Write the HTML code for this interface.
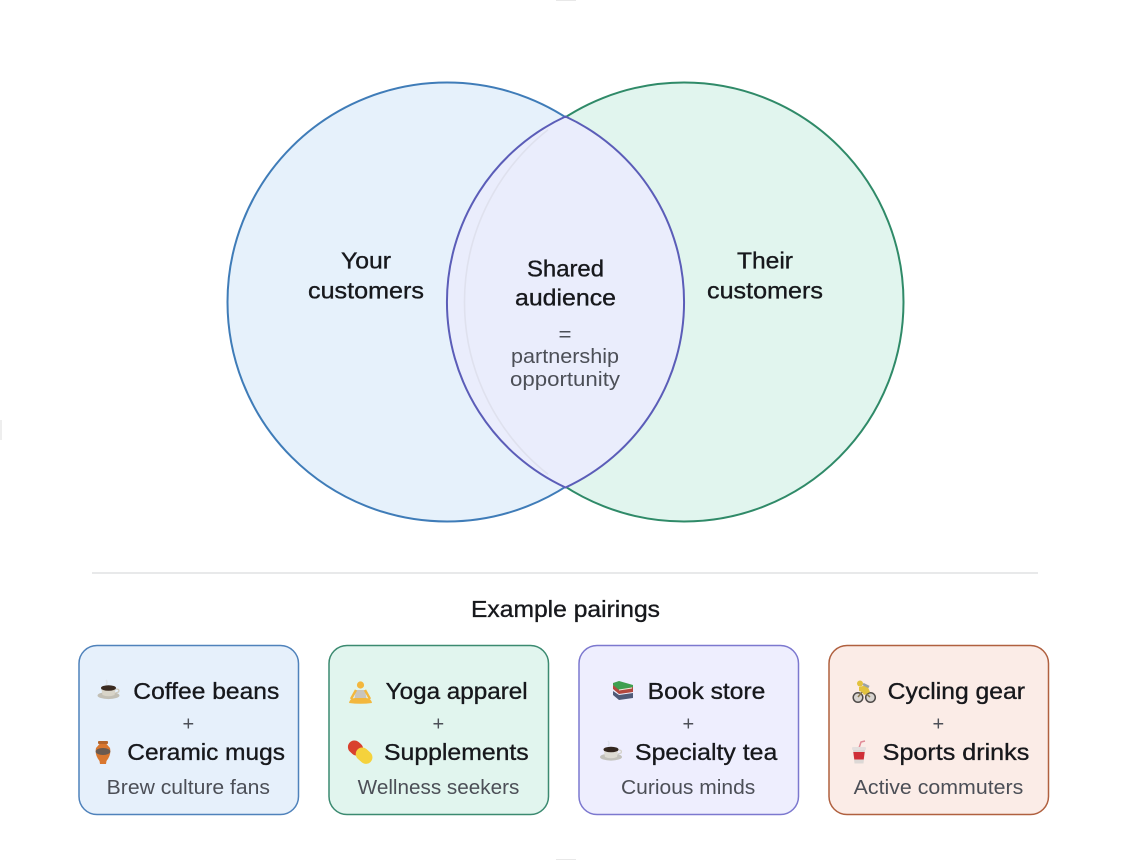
<!DOCTYPE html>
<html>
<head>
<meta charset="utf-8">
<style>
html,body{margin:0;padding:0;background:#fff;width:1130px;height:860px;overflow:hidden}
svg{display:block}
text{font-family:"Liberation Sans",sans-serif;text-anchor:start}
.h{fill:#17181c;stroke:#17181c;stroke-width:.35px}
.s{fill:#4c4f57}
</style>
</head>
<body>
<svg width="1130" height="860" viewBox="0 0 1130 860" xmlns="http://www.w3.org/2000/svg">
<rect x="556" y="0" width="20" height="1" fill="#e8e8e8"/>
<rect x="556" y="859" width="20" height="1" fill="#e8e8e8"/>
<rect x="0" y="420" width="2" height="20" fill="#eeeeee"/>

<circle cx="447" cy="302" r="220" fill="#e6f1fb"/>
<circle cx="684" cy="302" r="220" fill="#e1f5ee"/>
<circle cx="447" cy="302" r="219.500" fill="none" stroke="#3f7cb8" stroke-width="2"/>
<circle cx="684" cy="302" r="219.500" fill="none" stroke="#2f8a68" stroke-width="2"/>
<path d="M565.500 116.500A204.400 204.400 0 0 1 565.500 487.500A204.400 204.400 0 0 1 565.500 116.500Z" fill="#eaedfc"/>
<path d="M548 129.700A219.500 219.500 0 0 0 548 474.300" fill="none" stroke="#dfe1ee" stroke-width="1.600"/>
<path d="M565.500 116.500A204.400 204.400 0 0 1 565.500 487.500A204.400 204.400 0 0 1 565.500 116.500Z" fill="none" stroke="#5b5db8" stroke-width="2"/>

<text class="h" x="341" y="268.500" font-size="23" textLength="50" lengthAdjust="spacingAndGlyphs">Your</text>
<text class="h" x="308" y="298.500" font-size="23" textLength="116" lengthAdjust="spacingAndGlyphs">customers</text>
<text class="h" x="737" y="268.500" font-size="23" textLength="56" lengthAdjust="spacingAndGlyphs">Their</text>
<text class="h" x="707" y="298.500" font-size="23" textLength="116" lengthAdjust="spacingAndGlyphs">customers</text>
<text class="h" x="527" y="276.500" font-size="23" textLength="77" lengthAdjust="spacingAndGlyphs">Shared</text>
<text class="h" x="515" y="305.500" font-size="23" textLength="101" lengthAdjust="spacingAndGlyphs">audience</text>
<text class="s" x="558.500" y="341" font-size="20" textLength="13" lengthAdjust="spacingAndGlyphs">=</text>
<text class="s" x="511" y="363" font-size="20" textLength="108" lengthAdjust="spacingAndGlyphs">partnership</text>
<text class="s" x="510" y="386" font-size="20" textLength="110" lengthAdjust="spacingAndGlyphs">opportunity</text>

<rect x="92" y="572" width="946" height="2" fill="#e8e9ea"/>
<text class="h" x="471" y="617" font-size="23" textLength="189" lengthAdjust="spacingAndGlyphs">Example pairings</text>

<rect x="79" y="645.500" width="219.500" height="169" rx="18" fill="#e6f0fb" stroke="#4f82bb" stroke-width="1.500"/>
<rect x="329" y="645.500" width="219.500" height="169" rx="18" fill="#e1f5ee" stroke="#3b8a70" stroke-width="1.500"/>
<rect x="579" y="645.500" width="219.500" height="169" rx="18" fill="#eeeefe" stroke="#7c78cf" stroke-width="1.500"/>
<rect x="829" y="645.500" width="219.500" height="169" rx="18" fill="#fbece7" stroke="#b0603f" stroke-width="1.500"/>

<text class="h" x="133.300" y="699" font-size="23.500" textLength="146" lengthAdjust="spacingAndGlyphs">Coffee beans</text>
<text class="s" x="182.500" y="730.500" font-size="20">+</text>
<text class="h" x="127.300" y="760" font-size="23.500" textLength="157.700" lengthAdjust="spacingAndGlyphs">Ceramic mugs</text>
<text class="s" x="106.700" y="794" font-size="20" textLength="163.300" lengthAdjust="spacingAndGlyphs">Brew culture fans</text>

<text class="h" x="385.700" y="699" font-size="23.500" textLength="142" lengthAdjust="spacingAndGlyphs">Yoga apparel</text>
<text class="s" x="432.500" y="730.500" font-size="20">+</text>
<text class="h" x="384" y="760" font-size="23.500" textLength="144.700" lengthAdjust="spacingAndGlyphs">Supplements</text>
<text class="s" x="357.700" y="794" font-size="20" textLength="161.600" lengthAdjust="spacingAndGlyphs">Wellness seekers</text>

<text class="h" x="647.700" y="699" font-size="23.500" textLength="117.600" lengthAdjust="spacingAndGlyphs">Book store</text>
<text class="s" x="682.500" y="730.500" font-size="20">+</text>
<text class="h" x="635" y="760" font-size="23.500" textLength="142.300" lengthAdjust="spacingAndGlyphs">Specialty tea</text>
<text class="s" x="621" y="794" font-size="20" textLength="134.300" lengthAdjust="spacingAndGlyphs">Curious minds</text>

<text class="h" x="887.700" y="699" font-size="23.500" textLength="137.300" lengthAdjust="spacingAndGlyphs">Cycling gear</text>
<text class="s" x="932.500" y="730.500" font-size="20">+</text>
<text class="h" x="882.700" y="760" font-size="23.500" textLength="146.600" lengthAdjust="spacingAndGlyphs">Sports drinks</text>
<text class="s" x="853.700" y="794" font-size="20" textLength="169.600" lengthAdjust="spacingAndGlyphs">Active commuters</text>

<!-- coffee -->
<g>
<path d="M106 680q2 2 0 5" fill="none" stroke="#dfe3e8" stroke-width="1.500"/>
<ellipse cx="108.500" cy="695.500" rx="11" ry="3.600" fill="#c2bfb5"/>
<path d="M101 687h15l-1.500 8q-6 2.500-12 0Z" fill="#d8d4c8"/>
<ellipse cx="108.500" cy="688" rx="7.500" ry="2.800" fill="#3a2a20"/>
<path d="M116 689q4 0 2.500 3l-3 1" fill="none" stroke="#cfcabd" stroke-width="1.300"/>
</g>
<!-- vase -->
<g>
<rect x="98" y="741" width="10" height="3" rx="1" fill="#b5652c"/>
<path d="M99.500 744h7l3.500 4q1.500 7-3.500 13l-.5 3h-6l-.5-3q-5-6-3.500-13Z" fill="#d9772f"/>
<ellipse cx="103" cy="751.500" rx="7.300" ry="3.500" fill="#6a5a50"/>
</g>
<!-- yoga -->
<g>
<circle cx="360.500" cy="685" r="3.600" fill="#f3b73d"/>
<path d="M356 690h9l1.500 8h-12Z" fill="#c9c5bd"/>
<path d="M356 690l-5 9M365 690l5 9" stroke="#f3b73d" stroke-width="2.400" fill="none"/>
<path d="M349 703q1-5 6-5h11q5 0 6 5q-11.500 1.500-23 0Z" fill="#f3b73d"/>
</g>
<!-- pill -->
<g transform="rotate(42 360 752)">
<rect x="346" y="745.500" width="16" height="13" rx="6.500" fill="#d9412e"/>
<rect x="356.500" y="745.500" width="18" height="13" rx="6.500" fill="#f5d23c"/>
</g>
<!-- books -->
<g>
<path d="M613 695l6 5 14-2v-5l-14 2-6-4Z" fill="#4f5a78"/>
<path d="M613 689l6 5 14-2v-5l-14 2-6-4Z" fill="#b2483f"/>
<path d="M613 685l6 5 14-3v-2l-14-4-6 2Z" fill="#3f9f50"/>
<path d="M619 690l13-2" stroke="#efe9da" stroke-width="1"/>
</g>
<!-- tea cup -->
<g>
<path d="M608 741q2 2 0 5" fill="none" stroke="#dfe3ee" stroke-width="1.500"/>
<ellipse cx="611" cy="757" rx="11" ry="3.600" fill="#c2c1bb"/>
<path d="M603.500 749h15l-1.500 8q-6 2.500-12 0Z" fill="#dcdad2"/>
<ellipse cx="611" cy="749.500" rx="7.500" ry="2.800" fill="#332720"/>
<path d="M618.500 750q4 0 2.500 3l-3 1" fill="none" stroke="#d4d2ca" stroke-width="1.300"/>
</g>
<!-- cyclist -->
<g>
<circle cx="858" cy="697.500" r="4.800" fill="#d8d4d0" stroke="#4e4a48" stroke-width="1.500"/>
<circle cx="870.500" cy="697.500" r="4.800" fill="#d8d4d0" stroke="#4e4a48" stroke-width="1.500"/>
<path d="M858 697l5-6 7 6" fill="none" stroke="#8a7a50" stroke-width="1.500"/>
<circle cx="860" cy="683.500" r="3" fill="#e2c23f"/>
<path d="M859 687l8-2 3 7-6 3-2-3-3-1Z" fill="#e2c23f"/>
<path d="M863 684l6 3" stroke="#9aa2a8" stroke-width="2.500"/>
</g>
<!-- drink -->
<g>
<path d="M859 748l2-6 4-1" fill="none" stroke="#e08a96" stroke-width="1.500"/>
<rect x="852" y="747" width="14" height="3" rx="1" fill="#e4dfde"/>
<path d="M853 750h12l-1.500 13.500h-9Z" fill="#dcd8d6"/>
<path d="M853.300 752h11.400l-1 7.500h-9.400Z" fill="#cf2f38"/>
</g>
</svg>
</body>
</html>
